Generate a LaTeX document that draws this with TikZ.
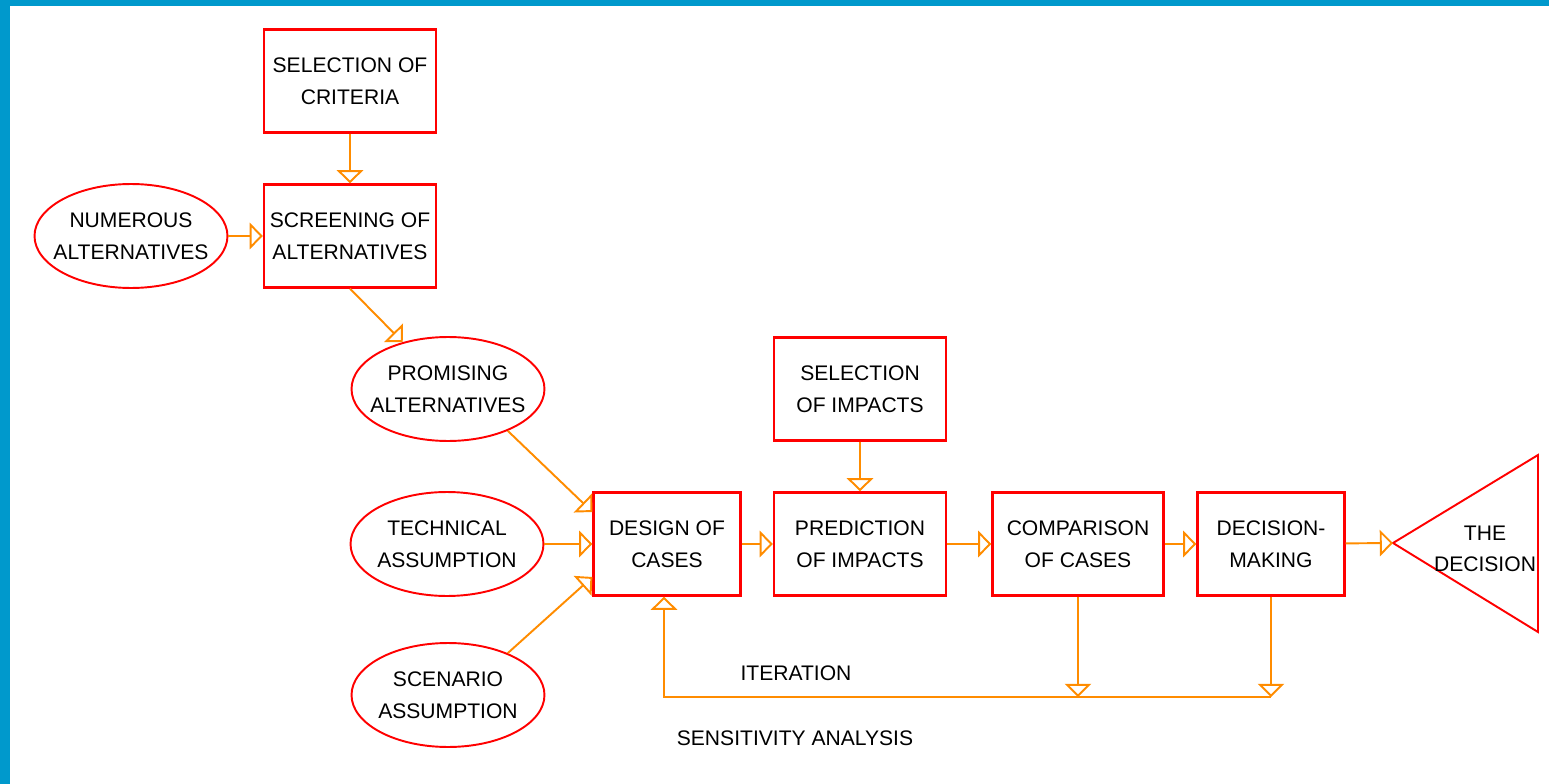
\documentclass[tikz,border=0pt]{standalone}
\usepackage{fontspec}
\setmainfont{Liberation Sans}
\usetikzlibrary{calc,arrows.meta,shapes}

\definecolor{frameblue}{RGB}{0,153,204}
\definecolor{linkorange}{RGB}{255,140,0}

\begin{document}
\begin{tikzpicture}[x=0.02cm,y=-0.02cm,
                       font=\fontsize{12}{18}\selectfont,
                       box node/.style={rectangle,draw=red,line width=1.3pt,align=center,
                                        minimum width=3.44cm,minimum height=2.06cm,inner sep=2pt},
                       oval node/.style={ellipse,draw=red,line width=1.1pt,align=center,
                                         minimum width=3.86cm,minimum height=2.08cm,
                                         inner xsep=-20pt,inner ysep=0pt},
                       flow/.style={draw=linkorange,line width=1.1pt,
                                    -{Triangle[open,width=15pt,length=7.5pt]}}
                           ]
   \useasboundingbox (0,0) rectangle (1549,784);
   \fill[frameblue] (0,0) rectangle (1549,6);
   \fill[frameblue] (0,0) rectangle (10,784);
   % boxes and ovals
   \node[box node] (crit) at (350,81) {SELECTION OF\\CRITERIA};
   \node[box node] (screen) at (350,236) {SCREENING OF\\ALTERNATIVES};
   \node[oval node] (numer) at (131,236) {NUMEROUS\\ALTERNATIVES};
   \node[oval node] (prom) at (448,389) {PROMISING\\ALTERNATIVES};
   \node[oval node] (tech) at (447,544) {TECHNICAL\\ASSUMPTION};
   \node[oval node] (scen) at (448,695) {SCENARIO\\ASSUMPTION};
   \node[box node,minimum width=2.94cm] (design) at (667,544) {DESIGN OF\\CASES};
   \node[box node] (selimp) at (860,389) {SELECTION\\OF IMPACTS};
   \node[box node] (pred) at (860,544) {PREDICTION\\OF IMPACTS};
   \node[box node,minimum width=3.42cm] (comp) at (1078,544) {COMPARISON\\OF CASES};
   \node[box node,minimum width=2.94cm] (decmak) at (1271,544) {DECISION-\\MAKING};
   % the decision
   \coordinate (apex) at (1393,543);
   \draw[red,line width=1.1pt] (apex) -- (1538,455) -- (1538,632) -- cycle;
   \node[align=center] (decision) at (1485,549) {THE\\DECISION};
   \node (iter) at (796,673) {ITERATION};
   \node (sens) at (795,738) {SENSITIVITY ANALYSIS};
   \coordinate (loopL) at (664,697);
      \path%
    (crit) edge [flow] (screen)
    (numer) edge [flow] (screen)
    (screen.south) edge [flow] (prom.134)
    (prom.-35) edge [flow] ($(design.west)+(0,-32)$)
    (tech) edge [flow] (design)
    (scen.35) edge [flow] ($(design.west)+(0,33)$)
    (design) edge [flow] (pred)
    (selimp) edge [flow] (pred)
    (pred) edge [flow] (comp)
    (comp) edge [flow] (decmak)
    (decmak) edge [flow] (apex)
    (comp.south) edge [flow] (comp.south |- loopL)
    (decmak.south) edge [flow] (decmak.south |- loopL);
   \draw[flow] (decmak.south |- loopL) -- (loopL) -- (design.south -| loopL);
      \end{tikzpicture}
\end{document}
